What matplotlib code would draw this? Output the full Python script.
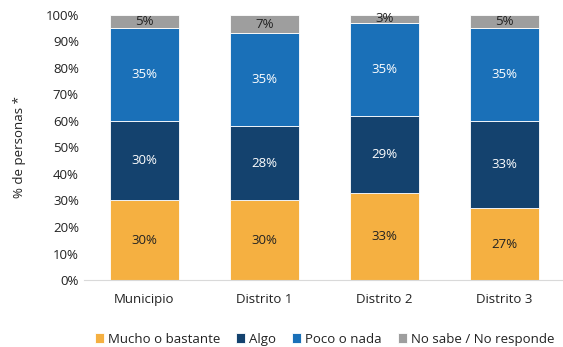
import matplotlib.pyplot as plt
import numpy as np

plt.rcParams['font.family'] = ['Open Sans', 'DejaVu Sans']

categories = ['Municipio', 'Distrito 1', 'Distrito 2', 'Distrito 3']
series_names = ['Mucho o bastante', 'Algo', 'Poco o nada', 'No sabe / No responde']
mucho = [30, 30, 33, 27]
algo = [30, 28, 29, 33]
poco = [35, 35, 35, 35]
no_sabe = [5, 7, 3, 5]
yticks = [0, 10, 20, 30, 40, 50, 60, 70, 80, 90, 100]

colors = ['#F5B041', '#14426E', '#1A70B8', '#9E9E9E']
text_colors = ['#222222', 'white', 'white', '#222222']

fig = plt.figure(figsize=(5.63, 3.47), dpi=100)
ax = fig.add_axes([0.150, 0.193, 0.853, 0.764])

x = np.arange(len(categories))
bottom = np.zeros(len(categories))
for name, vals, c, tc in zip(series_names, [mucho, algo, poco, no_sabe], colors, text_colors):
    vals = np.array(vals, dtype=float)
    ax.bar(x, vals, 0.57, bottom=bottom, color=c, label=name,
           edgecolor='white', linewidth=0.6)
    for xi, b, v in zip(x, bottom, vals):
        ax.text(xi, b + v / 2, f'{v:.0f}%', ha='center', va='center',
                color=tc, fontsize=9.5)
    bottom += vals

ax.set_xlim(-0.5, 3.5)
ax.set_ylim(0, 100)
ax.set_yticks(yticks)
ax.set_yticklabels([f'{t}%' for t in yticks], fontsize=9.5, color='#222222')
ax.set_xticks(x)
ax.set_xticklabels(categories, fontsize=9.5, color='#222222')
ax.tick_params(axis='x', length=0, pad=9)
ax.tick_params(axis='y', length=0, pad=4)
ax.set_ylabel('% de personas *', fontsize=9.5, color='#222222', labelpad=14)

for s in ['top', 'right', 'left']:
    ax.spines[s].set_visible(False)
ax.spines['bottom'].set_color('#D9D9D9')

ax.legend(loc='center', bbox_to_anchor=(0.50, -0.223), ncol=4, frameon=False,
          fontsize=9.5, handlelength=0.7, handleheight=0.7, handletextpad=0.3,
          columnspacing=1.2, labelcolor='#222222')

fig.savefig('out.png', dpi=100)
